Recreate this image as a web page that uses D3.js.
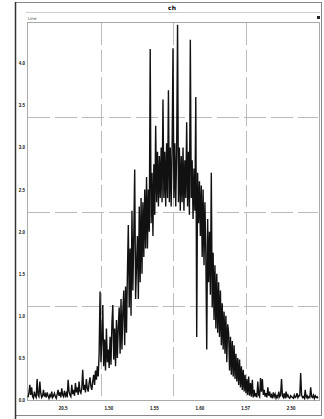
<!DOCTYPE html>
<html>
<head>
<meta charset="utf-8">
<script src="https://cdn.jsdelivr.net/npm/d3@7"></script>
<style>
  body { margin: 0; background: #fff; }
  svg { display: block; font-family: "DejaVu Sans", sans-serif; }
  .grid line { stroke: #bbb; stroke-width: 1; stroke-dasharray: 22 5; }
  .tick text { font-weight: bold; fill: #111; }
</style>
</head>
<body>
<script>
// spectrum, first channel and counts per channel
var firstChannel = 12;
var counts = [
  3, 8, 18, 6, 15, 4, 2, 10, 5, 3,
  25, 6, 4, 22, 8, 3, 5, 12, 4, 7,
  3, 9, 5, 2, 6, 4, 10, 3, 5, 8,
  4, 2, 7, 12, 5, 9, 3, 14, 6, 4,
  11, 5, 8, 3, 24, 10, 6, 4, 18, 7,
  12, 5, 20, 9, 15, 6, 22, 10, 8, 14,
  36, 12, 18, 9, 25, 14, 10, 20, 27, 16,
  12, 22, 30, 18, 35, 24, 40, 28, 55, 129,
  45, 70, 113, 40, 72, 35, 85, 45, 60, 38,
  75, 42, 90, 113, 48, 85, 40, 95, 50, 88,
  110, 55, 120, 60, 105, 130, 65, 135, 80, 150,
  208, 110, 180, 100, 225, 130, 195, 274, 120, 160,
  195, 120, 230, 140, 240, 150, 235, 170, 250, 180,
  265, 180, 250, 200, 417, 210, 270, 195, 280, 220,
  326, 235, 295, 230, 290, 240, 300, 235, 357, 240,
  295, 230, 305, 240, 368, 235, 300, 230, 295, 418,
  240, 305, 230, 295, 446, 235, 300, 225, 290, 235,
  300, 225, 285, 240, 330, 230, 295, 220, 428, 240,
  285, 215, 275, 225, 360, 75, 270, 210, 260, 195,
  255, 170, 250, 160, 235, 175, 60, 215, 140, 200,
  125, 270, 110, 175, 95, 160, 85, 150, 80, 140,
  75, 130, 65, 115, 60, 105, 55, 100, 45, 90,
  80, 35, 75, 30, 70, 28, 65, 25, 55, 22,
  50, 18, 48, 15, 40, 12, 36, 10, 30, 8,
  25, 6, 28, 5, 20, 4, 24, 3, 12, 4,
  8, 3, 22, 6, 4, 26, 10, 25, 6, 12,
  4, 8, 3, 15, 5, 10, 3, 6, 2, 9,
  4, 7, 2, 5, 3, 10, 4, 6, 25, 5,
  3, 8, 2, 10, 4, 6, 3, 2, 5, 4,
  3, 2, 6, 3, 4, 8, 3, 5, 5, 32,
  6, 3, 4, 2, 12, 3, 5, 2, 4, 3,
  15, 4, 3, 6, 2, 5, 3, 4, 2
];
var xTickValues = [50, 100, 150, 200, 250, 300];
var xTickLabels = ["20.5", "1.50", "1.55", "1.60", "1.57", "2.50"];
var yTickValues = [0, 50, 100, 150, 200, 250, 300, 350, 400];
var titleText = "ch";
var legendText = "Line";

var width = 324, height = 419;
var plot = {left: 28, right: 318, top: 23, bottom: 400};

var svg = d3.select("body").append("svg")
    .attr("width", width)
    .attr("height", height);

//outer frame
svg.append("rect")
    .attr("x", 15.5).attr("y", 2.5)
    .attr("width", 306).attr("height", 413)
    .attr("fill", "none")
    .attr("stroke", "#888");
svg.append("line")
    .attr("x1", 15.5).attr("x2", 15.5)
    .attr("y1", 2).attr("y2", 419)
    .attr("stroke", "#333").attr("stroke-width", 1.5);

//title bar
svg.append("text")
    .attr("x", 172).attr("y", 10)
    .attr("text-anchor", "middle")
    .attr("font-size", 6).attr("font-weight", "bold")
    .text(titleText);
svg.append("line")
    .attr("x1", 26).attr("x2", 320)
    .attr("y1", 12.5).attr("y2", 12.5)
    .attr("stroke", "#ccc");
svg.append("text")
    .attr("x", 28).attr("y", 19.5)
    .attr("font-size", 4)
    .attr("fill", "#444")
    .text(legendText);
svg.append("rect")
    .attr("x", 317).attr("y", 16)
    .attr("width", 3).attr("height", 3)
    .attr("fill", "#222");

var x = d3.scaleLinear()
    .domain([firstChannel, firstChannel + counts.length - 1])
    .range([plot.left, plot.right]);
var y = d3.scaleLinear()
    .domain([0, 448])
    .range([plot.bottom, plot.top]);

//plot frame
svg.append("rect")
    .attr("x", plot.left - 0.5).attr("y", plot.top - 0.5)
    .attr("width", plot.right - plot.left + 2).attr("height", plot.bottom - plot.top + 1)
    .attr("fill", "none")
    .attr("stroke", "#aaa");

//grid at quarters
var grid = svg.append("g").attr("class", "grid");
grid.selectAll(".gx")
    .data([1, 2, 3].map(function(k){ return x.domain()[0] + k * (x.domain()[1] - x.domain()[0]) / 4; }))
    .enter().append("line")
    .attr("x1", function(d){ return Math.round(x(d)) + 0.5; })
    .attr("x2", function(d){ return Math.round(x(d)) + 0.5; })
    .attr("y1", plot.top).attr("y2", plot.bottom);
grid.selectAll(".gy")
    .data([112, 224, 336])
    .enter().append("line")
    .attr("y1", function(d){ return Math.round(y(d)) + 0.5; })
    .attr("y2", function(d){ return Math.round(y(d)) + 0.5; })
    .attr("x1", plot.left).attr("x2", plot.right);

//axes
var yAxis = svg.append("g")
    .attr("transform", "translate(" + (plot.left - 1) + ",0)")
    .call(d3.axisLeft(y).tickValues(yTickValues).tickSize(0).tickPadding(2)
        .tickFormat(function(d){ return d3.format(".1f")(d / 100); }));
yAxis.select(".domain").remove();
yAxis.selectAll("text").attr("font-size", 4.5);

var xAxis = svg.append("g")
    .attr("transform", "translate(0," + (plot.bottom + 5) + ")")
    .call(d3.axisBottom(x).tickValues(xTickValues).tickSize(0).tickPadding(2)
        .tickFormat(function(d, i){ return xTickLabels[i]; }));
xAxis.select(".domain").remove();
xAxis.selectAll("text").attr("font-size", 4.5);

//spectrum trace
var line = d3.line()
    .x(function(d, i){ return x(firstChannel + i); })
    .y(function(d){ return y(d); });
svg.append("path")
    .datum(counts)
    .attr("d", line)
    .attr("fill", "none")
    .attr("stroke", "#111")
    .attr("stroke-width", 1.4)
    .attr("stroke-linejoin", "miter");
</script>
</body>
</html>
